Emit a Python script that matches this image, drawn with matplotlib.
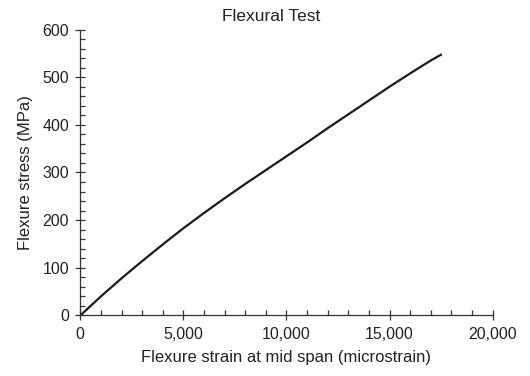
import matplotlib
matplotlib.use("Agg")
import matplotlib.pyplot as plt
from matplotlib.ticker import MultipleLocator, StrMethodFormatter

# strain (microstrain) vs stress (MPa)
strain = [0, 1000, 2000, 3000, 4000, 5000, 6000, 7000, 8000, 9000,
          10000, 11000, 12000, 13000, 14000, 15000, 16000, 17000, 17490]
stress = [0, 40, 78, 114, 149, 183, 215, 246, 276, 305,
          334, 363, 393, 422, 451, 480, 508, 535, 547]

plt.rcParams['font.family'] = ['Liberation Sans', 'DejaVu Sans']
plt.rcParams['font.size'] = 11.5

fig = plt.figure(figsize=(5.3, 3.76), dpi=100)
ax = fig.add_axes([0.1515, 0.161, 0.778, 0.7605])

ax.plot(strain, stress, color='#1a1a1a', lw=1.6)

ax.set_xlim(0, 20000)
ax.set_ylim(0, 600)
ax.xaxis.set_major_locator(MultipleLocator(5000))
ax.xaxis.set_minor_locator(MultipleLocator(1000))
ax.yaxis.set_major_locator(MultipleLocator(100))
ax.yaxis.set_minor_locator(MultipleLocator(20))
ax.xaxis.set_major_formatter(StrMethodFormatter('{x:,.0f}'))

for s in ['top', 'right']:
    ax.spines[s].set_visible(False)
for s in ['left', 'bottom']:
    ax.spines[s].set_color('#333333')
    ax.spines[s].set_linewidth(0.9)

ax.tick_params(which='major', direction='inout', length=7, width=0.9,
               color='#333333', labelcolor='#222222', pad=4.5)
ax.tick_params(which='minor', direction='in', length=3.5, width=0.9,
               color='#333333')

# title sits a bit left of the axes centre in the original
ax.set_title('Flexural Test', fontsize=12.5, color='#222222', pad=6, x=0.462)
ax.set_xlabel('Flexure strain at mid span (microstrain)', fontsize=12,
              color='#222222', labelpad=6)
ax.set_ylabel('Flexure stress (MPa)', fontsize=12, color='#222222', labelpad=7)

fig.savefig('out.png', dpi=100)
